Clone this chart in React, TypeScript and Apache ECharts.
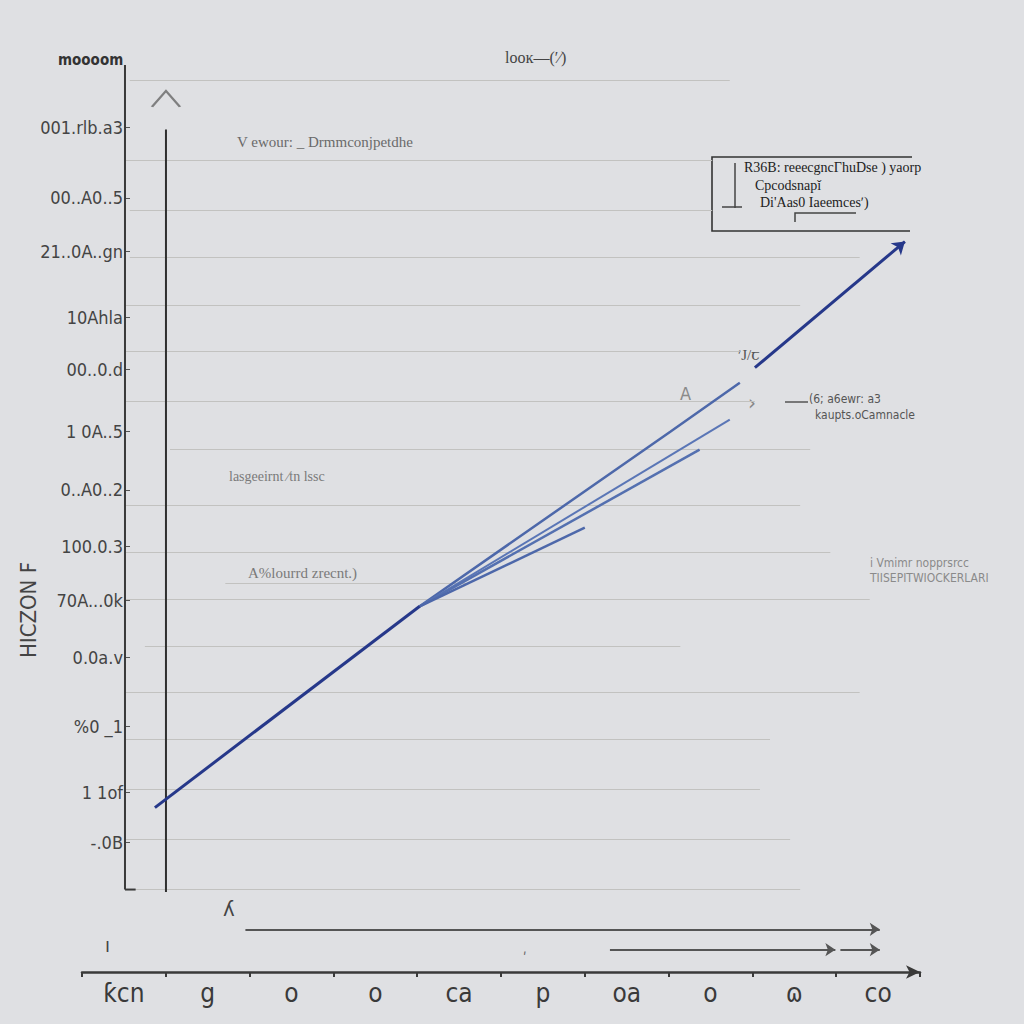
import React, { useEffect, useRef } from "react";
import * as echarts from "echarts";

// ---- data ----
const xCategories = ["ƙcn", "g", "o", "o", "ca", "p", "oa", "o", "ɷ", "co"];
const yLabels = ["001.rlb.a3", "00..A0..5", "21..0A..gn", "10Ahla", "00..0.d", "1 0A..5", "0..A0..2", "100.0.3", "70A...0k", "0.0a.v", "%0 _1", "1 1of", "-.0B"];
const yLabelValues = [15.72, 14.26, 13.15, 11.79, 10.72, 9.44, 8.24, 7.07, 5.96, 4.78, 3.36, 2.0, 0.97];

// main trend (lower and upper part)
const mainLowerX = [8.7, 40.3];
const mainLowerY = [1.69, 5.84];
const mainUpperX = [80.3, 98.2];
const mainUpperY = [10.76, 13.36];
// fanning branches from the junction
const branchAX = [40.3, 70.2, 78.5];
const branchAY = [5.84, 9.44, 10.45];
const branchBX = [40.3, 77.3];
const branchBY = [5.84, 9.69];
const branchCX = [40.3, 73.7];
const branchCY = [5.84, 9.07];
const branchDX = [40.3, 60.0];
const branchDY = [5.84, 7.46];

// horizontal rules: level, start, end
const ruleY = [16.69, 15.04, 14.01, 13.04, 12.05, 11.09, 10.06, 9.07, 7.93, 6.96, 6.31, 5.98, 5.01, 4.06, 3.09, 2.06, 1.03, 0];
const ruleStart = [5.7, 5.1, 5.7, 5.7, 5.1, 5.1, 5.1, 10.5, 5.1, 5.1, 17.1, 5.1, 7.5, 5.1, 5.1, 5.1, 5.1, 5.1];
const ruleEnd = [77.3, 75.2, 75.2, 92.8, 85.7, 78.5, 80.3, 86.9, 85.7, 89.3, 46.0, 94.0, 71.4, 92.8, 82.1, 80.9, 84.5, 85.7];

// bottom arrows
const arrowY = [-0.82, -1.24, -1.24];
const arrowStart = [19.5, 63.0, 90.5];
const arrowEnd = [95.2, 89.9, 95.2];

const NARROW = "'Liberation Sans Narrow', 'DejaVu Sans Condensed', 'Liberation Sans', sans-serif";
const SERIF = "'Liberation Serif', 'DejaVu Serif', serif";

function seg(xs: number[], ys: number[]) {
  return xs.map((x, i) => [x, ys[i]]);
}

export default function App() {
  const ref = useRef<HTMLDivElement>(null);
  useEffect(() => {
    const chart = echarts.init(ref.current!, null, { renderer: "svg" });
    const rules = ruleY.map((y, i) => ({ coords: [[ruleStart[i], y], [ruleEnd[i], y]] }));
    const arrows = arrowY.map((y, i) => ({ coords: [[arrowStart[i], y], [arrowEnd[i], y]] }));
    const option: any = {
      animation: false,
      backgroundColor: "#dfe0e3",
      title: {
        text: "looĸ—(ʹ⁄)",
        left: 500,
        top: 44,
        textStyle: { fontSize: 16, fontWeight: "normal", color: "#444", fontFamily: SERIF },
      },
      grid: { left: 82, right: 104, top: 65, bottom: 52 },
      xAxis: [
        { type: "value", min: 0, max: 100, show: false },
        {
          type: "category",
          data: xCategories,
          position: "bottom",
          boundaryGap: true,
          axisLine: { show: true, symbol: ["none", "arrow"], symbolSize: [10, 14], lineStyle: { color: "#3a3a3a", width: 2.5 } },
          axisTick: { show: true, length: 5, lineStyle: { color: "#3a3a3a", width: 2 } },
          axisLabel: { fontSize: 26, color: "#3a3a3a", margin: 8, fontFamily: NARROW },
          splitLine: { show: false },
        },
      ],
      yAxis: {
        type: "value",
        min: -1.7,
        max: 17,
        offset: -43,
        axisLine: { show: false },
        splitLine: { show: false },
        axisTick: { show: true, inside: true, length: 5, customValues: yLabelValues, lineStyle: { color: "#555" } },
        axisLabel: {
          customValues: yLabelValues,
          margin: 2,
          fontSize: 18,
          color: "#444",
          fontFamily: NARROW,
          formatter: (v: number) => {
            const i = yLabelValues.findIndex((p) => Math.abs(p - v) < 1e-6);
            return i >= 0 ? yLabels[i] : "";
          },
        },
      },
      series: [
        {
          type: "lines",
          coordinateSystem: "cartesian2d",
          xAxisIndex: 0,
          lineStyle: { color: "#c2c2c0", width: 1.2, opacity: 1 },
          data: rules,
          silent: true,
        },
        {
          type: "lines",
          coordinateSystem: "cartesian2d",
          xAxisIndex: 0,
          symbol: ["none", "arrow"],
          symbolSize: 10,
          lineStyle: { color: "#555", width: 2.2, opacity: 1 },
          data: arrows,
        },
        {
          name: "axis",
          type: "line",
          xAxisIndex: 0,
          data: [[5.13, 0], [5.13, 17]],
          showSymbol: false,
          lineStyle: { color: "#3a3a3a", width: 2 },
        },
        {
          name: "axisFoot",
          type: "line",
          xAxisIndex: 0,
          data: [[5.13, 0], [6.4, 0]],
          showSymbol: false,
          lineStyle: { color: "#3a3a3a", width: 2 },
        },
        {
          name: "vertical",
          type: "line",
          xAxisIndex: 0,
          data: [[10.02, 15.67], [10.02, -0.05]],
          showSymbol: false,
          lineStyle: { color: "#2f2f2f", width: 2 },
        },
        {
          type: "scatter",
          xAxisIndex: 0,
          data: [[10.02, 16.3]],
          symbol: "path://M0,10 L10,0 L20,10",
          symbolSize: [28, 16],
          itemStyle: { color: "none", borderColor: "#666", borderWidth: 2 },
        },
        {
          name: "branchA",
          type: "line",
          xAxisIndex: 0,
          data: seg(branchAX, branchAY),
          showSymbol: false,
          lineStyle: { color: "#4d68aa", width: 2.5 },
        },
        {
          name: "branchB",
          type: "line",
          xAxisIndex: 0,
          data: seg(branchBX, branchBY),
          showSymbol: false,
          lineStyle: { color: "#5a76b6", width: 2 },
        },
        {
          name: "branchC",
          type: "line",
          xAxisIndex: 0,
          data: seg(branchCX, branchCY),
          showSymbol: false,
          lineStyle: { color: "#5470b0", width: 2.5 },
        },
        {
          name: "branchD",
          type: "line",
          xAxisIndex: 0,
          data: seg(branchDX, branchDY),
          showSymbol: false,
          lineStyle: { color: "#4d68aa", width: 2.5 },
        },
        {
          name: "mainLower",
          type: "line",
          xAxisIndex: 0,
          data: seg(mainLowerX, mainLowerY),
          showSymbol: false,
          lineStyle: { color: "#26388a", width: 3 },
        },
        {
          type: "lines",
          coordinateSystem: "cartesian2d",
          xAxisIndex: 0,
          symbol: ["none", "arrow"],
          symbolSize: 12,
          lineStyle: { color: "#26388a", width: 3, opacity: 1 },
          data: [{ coords: seg(mainUpperX, mainUpperY) }],
        },
      ],
      graphic: [
        { type: "text", x: 58, y: 60, style: { text: "moooom", font: "bold 15px " + NARROW, fill: "#333", verticalAlign: "middle" } },
        { type: "text", x: 28, y: 610, rotation: Math.PI / 2, style: { text: "HICZON F", font: "22px " + NARROW, fill: "#444", align: "center", verticalAlign: "middle" } },
        { type: "text", x: 237, y: 142, style: { text: "V ewour: _ Drmmconjpetdhe", font: "15px " + SERIF, fill: "#6a6a6a", verticalAlign: "middle" } },
        { type: "text", x: 229, y: 476, style: { text: "lasgeeirnt ⁄tn lssc", font: "14px " + SERIF, fill: "#7a7a7a", verticalAlign: "middle" } },
        { type: "text", x: 248, y: 573, style: { text: "A%lourrd zrecnt.)", font: "15px " + SERIF, fill: "#7a7a7a", verticalAlign: "middle" } },
        { type: "text", x: 738, y: 355, style: { text: "ʹJ/ꞇ", font: "15px " + SERIF, fill: "#555", verticalAlign: "middle" } },
        { type: "text", x: 680, y: 393, style: { text: "A", font: "18px " + NARROW, fill: "#8a8a8a", verticalAlign: "middle" } },
        { type: "text", x: 748, y: 402, style: { text: "›", font: "22px " + NARROW, fill: "#888", verticalAlign: "middle" } },
        { type: "line", shape: { x1: 785, y1: 402, x2: 808, y2: 402 }, style: { stroke: "#555", lineWidth: 1.5 } },
        { type: "text", x: 809, y: 399, style: { text: "(6; a6ewr: a3", font: "12px " + NARROW, fill: "#555", verticalAlign: "middle" } },
        { type: "text", x: 815, y: 415, style: { text: "kaupts.oCamnacle", font: "12px " + NARROW, fill: "#555", verticalAlign: "middle" } },
        { type: "text", x: 870, y: 563, style: { text: "i Vmimr nopprsrcc", font: "12px " + NARROW, fill: "#8a8a8a", verticalAlign: "middle" } },
        { type: "text", x: 870, y: 578, style: { text: "TIISEPITWIOCKERLARI", font: "12px " + NARROW, fill: "#8a8a8a", verticalAlign: "middle" } },
        { type: "polyline", shape: { points: [[912, 157], [712, 157], [712, 231], [910, 231]] }, style: { stroke: "#333", lineWidth: 1.6, fill: "none" } },
        { type: "line", shape: { x1: 735, y1: 163, x2: 735, y2: 208 }, style: { stroke: "#444", lineWidth: 1.5 } },
        { type: "line", shape: { x1: 722, y1: 207, x2: 742, y2: 207 }, style: { stroke: "#444", lineWidth: 1.5 } },
        { type: "polyline", shape: { points: [[795, 222], [795, 213], [856, 213]] }, style: { stroke: "#444", lineWidth: 1.5, fill: "none" } },
        { type: "text", x: 744, y: 167, style: { text: "R36B: reeecgncΓhuDse ) yaorp", font: "14px " + SERIF, fill: "#222", verticalAlign: "middle" } },
        { type: "text", x: 755, y: 185, style: { text: "Cpcodsnapǐ", font: "14px " + SERIF, fill: "#222", verticalAlign: "middle" } },
        { type: "text", x: 760, y: 202, style: { text: "Di'Aas0 Iaeemcesʹ)", font: "14px " + SERIF, fill: "#222", verticalAlign: "middle" } },
        { type: "text", x: 223, y: 908, style: { text: "ʎ", font: "22px " + NARROW, fill: "#444", verticalAlign: "middle" } },
        { type: "text", x: 105, y: 945, style: { text: "ı", font: "20px " + NARROW, fill: "#444", verticalAlign: "middle" } },
        { type: "text", x: 523, y: 958, style: { text: "ʹ", font: "14px " + NARROW, fill: "#666", verticalAlign: "middle" } },
      ],
    };
    chart.setOption(option);
    return () => chart.dispose();
  }, []);
  return (
    <div
      ref={ref}
      style={{ position: "fixed", left: 0, top: 0, width: 1024, height: 1024, background: "#dfe0e3" }}
    />
  );
}
